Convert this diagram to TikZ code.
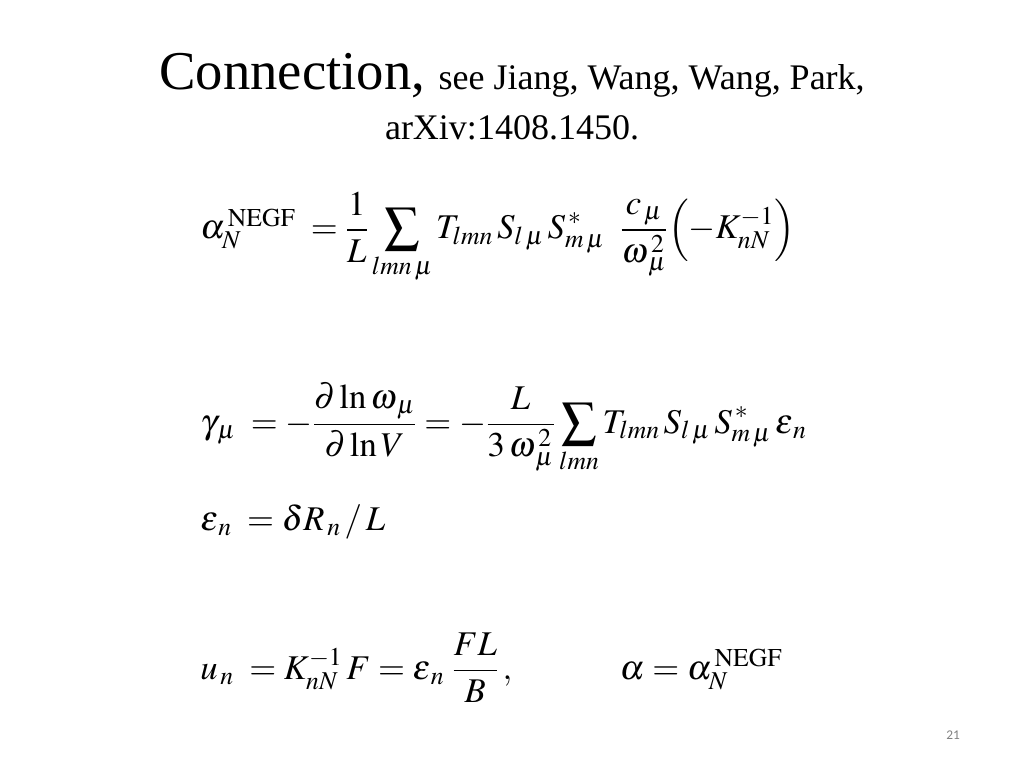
\RequirePackage{fix-cm}
\documentclass[tikz,border=0pt]{standalone}
\usepackage{amsmath}
\usepackage{mathptmx}
\usepackage{fontspec}
\setmainfont{Liberation Serif}
\newfontfamily\pgnum{Carlito}
\begin{document}
\begin{tikzpicture}[x=0.75pt,y=-0.75pt,
  eq/.style={anchor=west,inner sep=0pt,font=\fontsize{26}{30}\selectfont}]
\useasboundingbox (0,0) rectangle (1024,768);
\node[inner sep=0pt] (t1) at (512,76) {\fontsize{41}{48}\selectfont Connection, \fontsize{27}{32}\selectfont see Jiang, Wang, Wang, Park,};
\node[inner sep=0pt] (t2) at (512,128) {\fontsize{27}{32}\selectfont arXiv:1408.1450.};
\node[eq] (e1) at (200,238) {$\alpha_{N}^{\,\mathrm{NEGF}} \;= \dfrac{1}{L}\displaystyle\sum_{lmn\,\mu} T_{lmn}\,S_{l\,\mu}\,S^{\,*}_{m\,\mu}\;\;\frac{c_{\,\mu}}{\omega^{\,2}_{\,\mu}}\Bigl(-K^{-1}_{nN}\Bigr)$};
\node[eq] (e2) at (200,428) {$\gamma_{\,\mu} \;= -\dfrac{\partial\ln\omega_{\,\mu}}{\partial\ln V} = -\dfrac{L}{3\,\omega^{\,2}_{\,\mu}}\displaystyle\sum_{lmn} T_{lmn}\,S_{l\,\mu}\,S^{\,*}_{m\,\mu}\,\varepsilon_{\,n}$};
\node[eq] (e3) at (200,522) {$\varepsilon_{\,n} \;= \delta R_{\,n} \,/\, L$};
\node[eq] (e4) at (200,668) {$u_{\,n} \;= K^{-1}_{nN}\,F = \varepsilon_{\,n}\;\dfrac{FL}{B}\,, \qquad\quad \alpha = \alpha_{N}^{\,\mathrm{NEGF}}$};
\node[inner sep=0pt,text=gray] (pg) at (953,735) {\pgnum\fontsize{10}{12}\selectfont 21};
\end{tikzpicture}
\end{document}
